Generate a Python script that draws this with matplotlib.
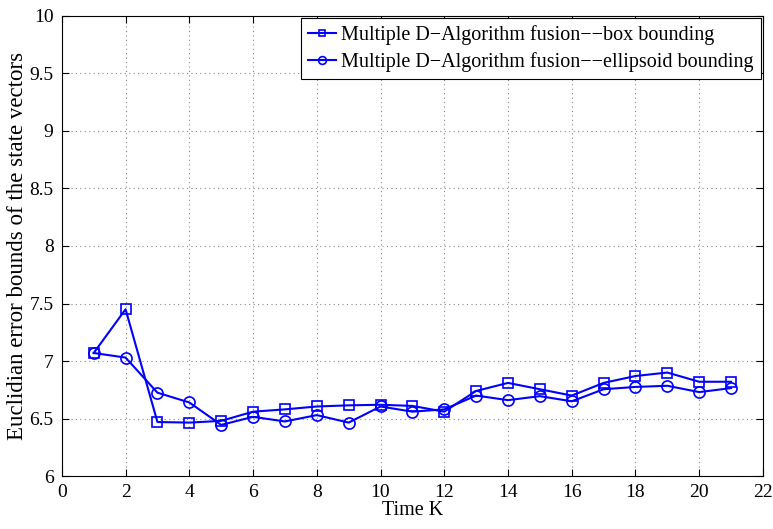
import numpy as np
import matplotlib.pyplot as plt

plt.rcParams['font.family'] = ['Liberation Serif', 'DejaVu Serif']
plt.rcParams['mathtext.fontset'] = 'stix'

# time steps and error bounds for the two fusion methods
time_k = [1, 2, 3, 4, 5, 6, 7, 8, 9, 10, 11, 12, 13, 14, 15, 16, 17, 18, 19, 20, 21]
box_bound = [7.07, 7.45, 6.47, 6.465, 6.48, 6.56, 6.58, 6.605, 6.615, 6.62, 6.61,
             6.56, 6.74, 6.81, 6.755, 6.70, 6.81, 6.87, 6.90, 6.82, 6.82]
ellipsoid_bound = [7.07, 7.03, 6.725, 6.64, 6.445, 6.515, 6.475, 6.53, 6.465, 6.605, 6.56,
                   6.58, 6.70, 6.66, 6.695, 6.65, 6.755, 6.775, 6.785, 6.73, 6.765]

labels = ['Multiple D\u2212Algorithm fusion\u2212\u2212box bounding',
          'Multiple D\u2212Algorithm fusion\u2212\u2212ellipsoid bounding']

fig = plt.figure(figsize=(7.73, 5.29), dpi=100)
ax = fig.add_axes([0.080, 0.100, 0.907, 0.870])

ax.plot(time_k, box_bound, color='#0000ff', lw=1.5, marker='s', ms=7,
        mfc='none', mew=1.2, label=labels[0])
ax.plot(time_k, ellipsoid_bound, color='#0000ff', lw=1.5, marker='o', ms=8,
        mfc='none', mew=1.2, label=labels[1])

ax.set_xlim(0, 22)
ax.set_ylim(6, 10)
ax.set_xticks(np.arange(0, 23, 2))
ax.set_yticks(np.arange(6, 10.01, 0.5))
ax.set_yticklabels(['6', '6.5', '7', '7.5', '8', '8.5', '9', '9.5', '10'])

ax.grid(True, linestyle=(0, (1, 3)), color='#888888', lw=0.8)
ax.tick_params(direction='in', top=True, right=True, labelsize=14, length=5)
ax.tick_params(axis='x', pad=6)
ax.tick_params(axis='y', pad=6)
for s in ax.spines.values():
    s.set_linewidth(0.8)

ax.set_xlabel('Time K', fontsize=14.5, labelpad=0)
ax.set_ylabel('Euclidian error bounds of the state vectors', fontsize=16.5, labelpad=1)

leg = ax.legend(loc='upper right', bbox_to_anchor=(1.0, 1.0), borderaxespad=0.1,
                fontsize=14.5, fancybox=False, framealpha=1, edgecolor='black',
                handlelength=1.4, handletextpad=0.25, borderpad=0.35, labelspacing=0.35,
                markerscale=0.7)
leg.get_frame().set_linewidth(0.8)

fig.savefig('out.png', dpi=100)
